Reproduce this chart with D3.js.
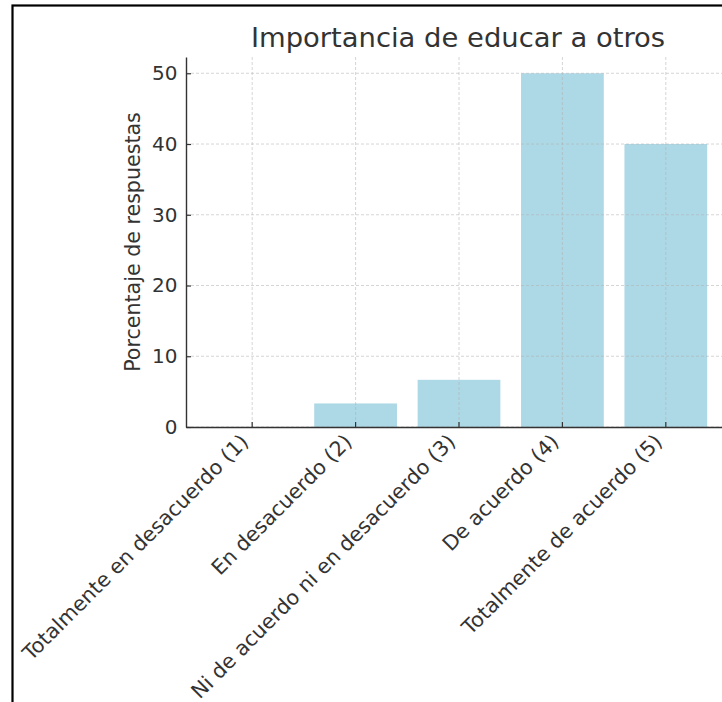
<!DOCTYPE html>
<html>
<head>
<meta charset="utf-8">
<script src="https://cdn.jsdelivr.net/npm/d3@7"></script>
<style>
  html, body { margin: 0; padding: 0; background: #fff; }
  svg { display: block; }
</style>
</head>
<body>
<svg id="chart" width="722" height="702"></svg>
<script>
const categories = [
  "Totalmente en desacuerdo (1)",
  "En desacuerdo (2)",
  "Ni de acuerdo ni en desacuerdo (3)",
  "De acuerdo (4)",
  "Totalmente de acuerdo (5)"
];
const values = [0, 3.33, 6.67, 50, 40];
const yTicks = [0, 10, 20, 30, 40, 50];
const title = "Importancia de educar a otros";
const yLabel = "Porcentaje de respuestas";

const svg = d3.select("#chart");
const font = "DejaVu Sans, sans-serif";
const textColor = "#333";

// frame
svg.append("rect")
  .attr("x", 12.5).attr("y", 5.5)
  .attr("width", 760).attr("height", 760)
  .attr("fill", "none").attr("stroke", "#000").attr("stroke-width", 2.2);

const plot = { left: 186, right: 732, top: 57, bottom: 427 };

const x = d3.scaleBand()
  .domain(categories)
  .range([plot.left, plot.right])
  .paddingInner(0.2)
  .paddingOuter(0.24);

const y = d3.scaleLinear()
  .domain([0, 52.3])
  .range([plot.bottom, plot.top]);

// bars
svg.append("g").selectAll("rect")
  .data(values)
  .join("rect")
  .attr("x", (d, i) => x(categories[i]))
  .attr("y", d => y(d))
  .attr("width", x.bandwidth())
  .attr("height", d => y(0) - y(d))
  .attr("fill", "#add8e6");

// grid (drawn over bars, light)
const grid = svg.append("g").attr("stroke", "#b0b0b0").attr("stroke-opacity", 0.6)
  .attr("stroke-width", 0.9).attr("stroke-dasharray", "3,2");
grid.selectAll("line.h")
  .data(yTicks)
  .join("line")
  .attr("class", "h")
  .attr("x1", plot.left).attr("x2", plot.right)
  .attr("y1", d => y(d)).attr("y2", d => y(d));
grid.selectAll("line.v")
  .data(categories)
  .join("line")
  .attr("class", "v")
  .attr("x1", d => x(d) + x.bandwidth() / 2).attr("x2", d => x(d) + x.bandwidth() / 2)
  .attr("y1", plot.top).attr("y2", plot.bottom);

// y axis
const yAxis = svg.append("g")
  .attr("transform", `translate(${plot.left},0)`)
  .call(d3.axisLeft(y).tickValues(yTicks).tickSizeInner(-5).tickSizeOuter(0).tickPadding(8.5));
yAxis.select(".domain").attr("stroke", "#333").attr("stroke-width", 1.4);
yAxis.selectAll(".tick line").attr("stroke", "#333").attr("stroke-width", 1.2);
yAxis.selectAll(".tick text")
  .attr("font-family", font).attr("font-size", 20).attr("fill", textColor);

// x axis
const xAxis = svg.append("g")
  .attr("transform", `translate(0,${plot.bottom})`)
  .call(d3.axisBottom(x).tickSizeInner(-5).tickSizeOuter(0).tickFormat(""));
xAxis.select(".domain").attr("stroke", "#333").attr("stroke-width", 1.4);
xAxis.selectAll(".tick line").attr("stroke", "#333").attr("stroke-width", 1.2);

// rotated x labels
const fs = 20.6;
svg.append("g").selectAll("text")
  .data(categories)
  .join("text")
  .attr("transform", d => {
    const cx = x(d) + x.bandwidth() / 2;
    const ex = cx - 0.707 * 0.236 * fs + 1;
    const ey = plot.bottom + 5 + 0.707 * 0.76 * fs;
    return `translate(${ex},${ey}) rotate(-45)`;
  })
  .attr("text-anchor", "end")
  .attr("font-family", font).attr("font-size", fs).attr("fill", textColor)
  .text(d => d);

// title
svg.append("text")
  .attr("x", (plot.left + plot.right) / 2 - 1)
  .attr("y", 47)
  .attr("text-anchor", "middle")
  .attr("font-family", font).attr("font-size", 27.4).attr("fill", textColor)
  .text(title);

// y label
svg.append("text")
  .attr("transform", `translate(140,${(plot.top + plot.bottom) / 2}) rotate(-90)`)
  .attr("text-anchor", "middle")
  .attr("font-family", font).attr("font-size", 20.6).attr("fill", textColor)
  .text(yLabel);
</script>
</body>
</html>
